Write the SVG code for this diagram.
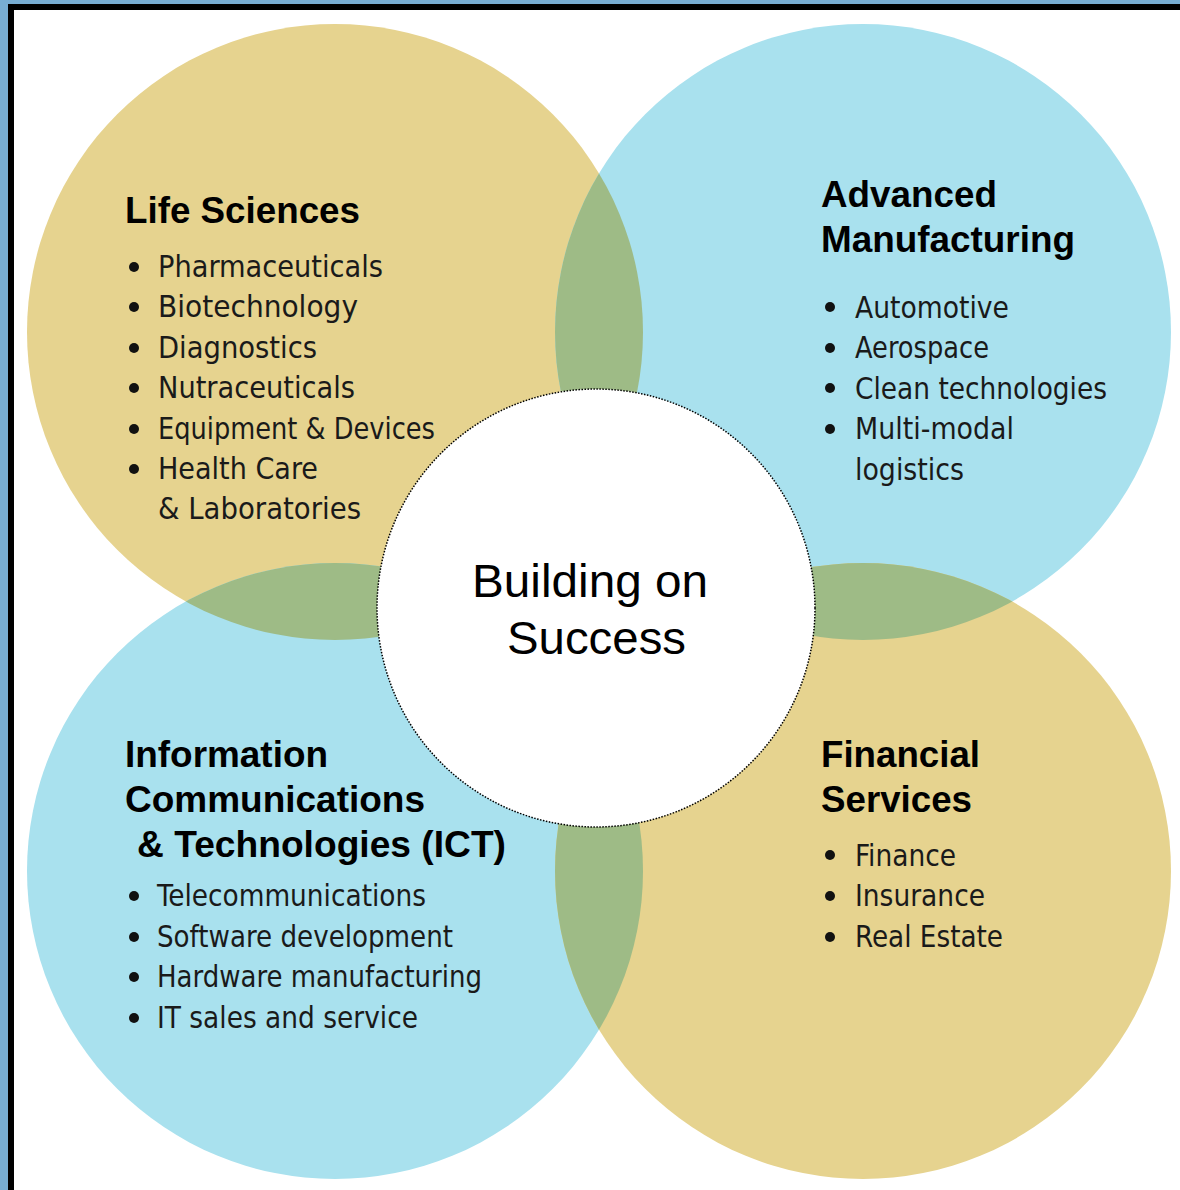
<svg xmlns="http://www.w3.org/2000/svg" width="1180" height="1190" viewBox="0 0 1180 1190">
<style>
.tan{fill:#e6d38f}
.blue{fill:#a9e1ee}
.lens{fill:#9ebb86}
.title{font-family:"Liberation Sans",Arial,sans-serif;font-weight:bold;font-size:36px;fill:#000}
.item{font-family:"DejaVu Sans Condensed","DejaVu Sans",sans-serif;font-size:30px;fill:#1a1a1a}
.center{font-family:"Liberation Sans",Arial,sans-serif;font-size:47px;fill:#000}
.dot{fill:#111}
</style>
<defs>
<clipPath id="cTL"><circle cx="335" cy="332" r="308"/></clipPath>
<clipPath id="cBR"><circle cx="863" cy="871" r="308"/></clipPath>
</defs>
<rect x="0" y="0" width="1180" height="1190" fill="#78aed3"/>
<rect x="8" y="4" width="1172" height="1186" fill="#000"/>
<rect x="14" y="10" width="1166" height="1180" fill="#fff"/>

<g id="circle-life-sciences"><circle class="tan" cx="335" cy="332" r="308"/></g>
<g id="circle-advanced-manufacturing"><circle class="blue" cx="863" cy="332" r="308"/></g>
<g id="circle-ict"><circle class="blue" cx="335" cy="871" r="308"/></g>
<g id="circle-financial-services"><circle class="tan" cx="863" cy="871" r="308"/></g>
<g id="overlaps">
<circle class="lens" cx="863" cy="332" r="308" clip-path="url(#cTL)"/>
<circle class="lens" cx="335" cy="871" r="308" clip-path="url(#cTL)"/>
<circle class="lens" cx="863" cy="332" r="308" clip-path="url(#cBR)"/>
<circle class="lens" cx="335" cy="871" r="308" clip-path="url(#cBR)"/>
</g>
<g id="connectors"/>

<g id="center">
<circle cx="596" cy="608" r="219" fill="#fff" stroke="#000" stroke-width="1.5" stroke-dasharray="1.5 1.5"/>
<text class="center" x="590" y="597" text-anchor="middle" textLength="236" lengthAdjust="spacingAndGlyphs">Building on</text>
<text class="center" x="596.5" y="654" text-anchor="middle" textLength="179" lengthAdjust="spacingAndGlyphs">Success</text>
</g>

<g id="life-sciences">
<text class="title" x="125" y="223" textLength="235" lengthAdjust="spacingAndGlyphs">Life Sciences</text>
<circle class="dot" cx="134" cy="267" r="5"/><text class="item" x="158" y="277" textLength="225" lengthAdjust="spacingAndGlyphs">Pharmaceuticals</text>
<circle class="dot" cx="134" cy="307" r="5"/><text class="item" x="158" y="317" textLength="200" lengthAdjust="spacingAndGlyphs">Biotechnology</text>
<circle class="dot" cx="134" cy="348" r="5"/><text class="item" x="158" y="358" textLength="159" lengthAdjust="spacingAndGlyphs">Diagnostics</text>
<circle class="dot" cx="134" cy="388" r="5"/><text class="item" x="158" y="398" textLength="197" lengthAdjust="spacingAndGlyphs">Nutraceuticals</text>
<circle class="dot" cx="134" cy="429" r="5"/><text class="item" x="158" y="439" textLength="277" lengthAdjust="spacingAndGlyphs">Equipment &amp; Devices</text>
<circle class="dot" cx="134" cy="469" r="5"/><text class="item" x="158" y="479" textLength="160" lengthAdjust="spacingAndGlyphs">Health Care</text>
<text class="item" x="158" y="519" textLength="203" lengthAdjust="spacingAndGlyphs">&amp; Laboratories</text>
</g>

<g id="advanced-manufacturing">
<text class="title" x="821" y="207" textLength="176" lengthAdjust="spacingAndGlyphs">Advanced</text>
<text class="title" x="821" y="252" textLength="254" lengthAdjust="spacingAndGlyphs">Manufacturing</text>
<circle class="dot" cx="830" cy="307" r="5"/><text class="item" x="855" y="318" textLength="154" lengthAdjust="spacingAndGlyphs">Automotive</text>
<circle class="dot" cx="830" cy="348" r="5"/><text class="item" x="855" y="358" textLength="134" lengthAdjust="spacingAndGlyphs">Aerospace</text>
<circle class="dot" cx="830" cy="388" r="5"/><text class="item" x="855" y="399" textLength="252" lengthAdjust="spacingAndGlyphs">Clean technologies</text>
<circle class="dot" cx="830" cy="429" r="5"/><text class="item" x="855" y="439" textLength="159" lengthAdjust="spacingAndGlyphs">Multi-modal</text>
<text class="item" x="855" y="480" textLength="109" lengthAdjust="spacingAndGlyphs">logistics</text>
</g>

<g id="ict">
<text class="title" x="125" y="767" textLength="203" lengthAdjust="spacingAndGlyphs">Information</text>
<text class="title" x="125" y="812" textLength="300" lengthAdjust="spacingAndGlyphs">Communications</text>
<text class="title" x="137" y="857" textLength="369" lengthAdjust="spacingAndGlyphs">&amp; Technologies (ICT)</text>
<circle class="dot" cx="134" cy="896" r="5"/><text class="item" x="157" y="906" textLength="269" lengthAdjust="spacingAndGlyphs">Telecommunications</text>
<circle class="dot" cx="134" cy="937" r="5"/><text class="item" x="157" y="947" textLength="296" lengthAdjust="spacingAndGlyphs">Software development</text>
<circle class="dot" cx="134" cy="977" r="5"/><text class="item" x="157" y="987" textLength="325" lengthAdjust="spacingAndGlyphs">Hardware manufacturing</text>
<circle class="dot" cx="134" cy="1018" r="5"/><text class="item" x="157" y="1028" textLength="261" lengthAdjust="spacingAndGlyphs">IT sales and service</text>
</g>

<g id="financial-services">
<text class="title" x="821" y="767" textLength="159" lengthAdjust="spacingAndGlyphs">Financial</text>
<text class="title" x="821" y="812" textLength="151" lengthAdjust="spacingAndGlyphs">Services</text>
<circle class="dot" cx="830" cy="855" r="5"/><text class="item" x="855" y="866" textLength="101" lengthAdjust="spacingAndGlyphs">Finance</text>
<circle class="dot" cx="830" cy="896" r="5"/><text class="item" x="855" y="906" textLength="130" lengthAdjust="spacingAndGlyphs">Insurance</text>
<circle class="dot" cx="830" cy="937" r="5"/><text class="item" x="855" y="947" textLength="148" lengthAdjust="spacingAndGlyphs">Real Estate</text>
</g>
</svg>
